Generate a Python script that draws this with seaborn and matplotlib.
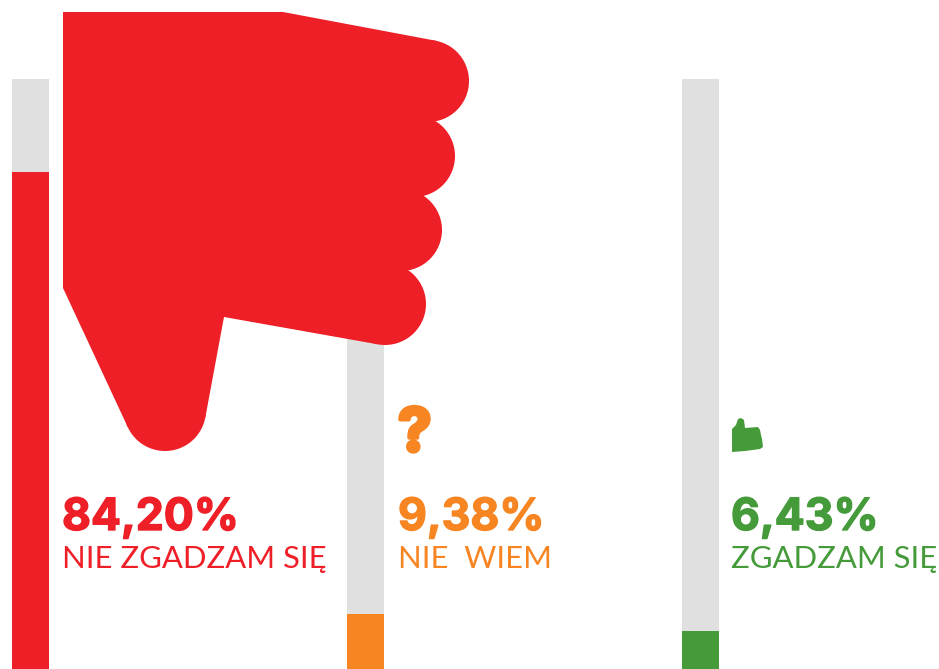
import matplotlib
matplotlib.use("Agg")
import matplotlib.pyplot as plt
from matplotlib.patches import Polygon, Circle
import matplotlib.patheffects as pe
import pandas as pd
import seaborn as sns

categories = ["NIE ZGADZAM SIĘ", "NIE  WIEM", "ZGADZAM SIĘ"]
values = [84.20, 9.38, 6.43]
track_values = [100, 100, 100]
colors = ["#EF1F27", "#F68522", "#459A3A"]
TRACK = "#E0E0E0"
W, H = 939, 669

sns.set_theme(style="white")
plt.rcParams['font.family'] = ['Inter', 'Lato', 'DejaVu Sans']

fig = plt.figure(figsize=(W / 100, H / 100), dpi=100, facecolor="white")
ax = fig.add_axes([0, 0, 1, 1])
df = pd.DataFrame({"category": categories, "value": values, "track": track_values})

sns.barplot(data=df, x="category", y="track", color=TRACK, saturation=1,
            width=37 / 335, ax=ax, errorbar=None, linewidth=0)
sns.barplot(data=df, x="category", y="value", hue="category", palette=colors,
            saturation=1, width=37 / 335, ax=ax, errorbar=None, legend=False, linewidth=0)
ax.set_xlim(-30.5 / 335, (W - 30.5) / 335)
ax.set_ylim(0, 100 * H / 590)
ax.axis("off")

# pixel-space overlay for the decorative icons and captions
ov = fig.add_axes([0, 0, 1, 1])
ov.set_xlim(0, W)
ov.set_ylim(H, 0)
ov.axis("off")
ov.patch.set_alpha(0)

red, orange, green = colors
hand = [(63, 12), (283, 12), (435.7, 40.7), (428, 81), (414, 156), (401, 230),
        (377.7, 344.3), (224, 317), (205.3, 417.6), (127.8, 427.2), (63, 288)]
ov.add_patch(Polygon(hand, closed=True, fc=red, ec="none"))
for cx, cy in [(428, 81), (414, 156), (401, 230), (385, 304), (165, 410)]:
    ov.add_patch(Circle((cx, cy), 41, fc=red, ec="none"))

thumb = [(732, 452), (732, 429), (736, 425), (738, 419), (741, 418), (744, 420),
         (745, 428), (758, 427), (760, 430), (761, 435), (762, 439), (763, 447),
         (760, 449), (745, 451)]
ov.add_patch(Polygon(thumb, closed=True, fc=green, ec="none"))

ov.text(398, 451, "?", color=orange, fontsize=43, fontweight="bold", ha="left", va="baseline",
        path_effects=[pe.withStroke(linewidth=3, foreground=orange)])

label_x = [62, 398, 731]
for x, v, c, name in zip(label_x, values, colors, categories):
    pct = f"{v:.2f}".replace(".", ",") + "%"
    ov.text(x, 530, pct, color=c, fontsize=32, fontweight="bold", ha="left", va="baseline",
            path_effects=[pe.withStroke(linewidth=1, foreground=c)])
    ov.text(x, 568, name, color=c, fontsize=22.3, family="Lato", fontweight="normal",
            ha="left", va="baseline")

fig.savefig("out.png", dpi=100, facecolor="white")
